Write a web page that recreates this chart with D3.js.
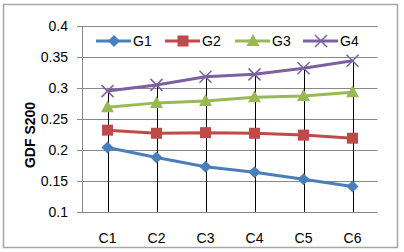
<!DOCTYPE html>
<html><head><meta charset="utf-8">
<script src="https://cdn.jsdelivr.net/npm/d3@7"></script>
<style>body{margin:0;background:#fff}</style>
</head><body>
<script>
const categories = ["C1","C2","C3","C4","C5","C6"];
const seriesNames = ["G1","G2","G3","G4"];
const G1 = [0.204,0.188,0.173,0.164,0.153,0.141];
const G2 = [0.232,0.227,0.228,0.227,0.224,0.219];
const G3 = [0.269,0.276,0.279,0.285,0.287,0.293];
const G4 = [0.295,0.305,0.318,0.322,0.332,0.344];
const yTicks = [0.1,0.15,0.2,0.25,0.3,0.35,0.4];
const colors = ["#4A7EBB","#BE4B48","#98B954","#7D60A0"];
const symbols = ["diamond","square","triangle","x"];
const allSeries = [G1,G2,G3,G4];

const W=404,H=252;
const svg=d3.select("body").append("svg").attr("width",W).attr("height",H);
svg.append("rect").attr("x",3.5).attr("y",4.5).attr("width",394).attr("height",243)
  .attr("fill","#fff").attr("stroke","#A6A6A6").attr("stroke-width",1.5);

const x=d3.scaleBand().domain(categories).range([83,377]);
const y=d3.scaleLinear().domain([0.1,0.4]).range([212,26]);
const font="'Liberation Sans', Arial, sans-serif";

// gridlines
svg.append("g").selectAll("line").data(yTicks).join("line")
  .attr("x1",77).attr("x2",377.5).attr("y1",d=>Math.round(y(d))+0.5).attr("y2",d=>Math.round(y(d))+0.5)
  .attr("stroke","#888").attr("stroke-width",1);
// y axis line
svg.append("line").attr("x1",82.5).attr("x2",82.5).attr("y1",26).attr("y2",212.5).attr("stroke","#888");
// y tick labels
svg.append("g").selectAll("text").data(yTicks).join("text")
  .attr("x",68).attr("y",d=>y(d)+5).attr("text-anchor","end")
  .attr("font-family",font).attr("font-size",14).attr("fill","#000")
  .text(d=>d3.format("")(d));
// x labels
svg.append("g").selectAll("text").data(categories).join("text")
  .attr("x",d=>x(d)+x.bandwidth()/2).attr("y",243).attr("text-anchor","middle")
  .attr("font-family",font).attr("font-size",14).attr("fill","#000").text(d=>d);
// y title
svg.append("text").attr("transform","translate(35,135) rotate(-90)").attr("text-anchor","middle")
  .attr("font-family",font).attr("font-size",14).attr("font-weight","bold").text("GDF S200");

// drop lines
const maxVals=categories.map((c,i)=>d3.max(allSeries,s=>s[i]));
svg.append("g").selectAll("line").data(categories).join("line")
  .attr("x1",d=>Math.round(x(d)+x.bandwidth()/2)+0.5).attr("x2",d=>Math.round(x(d)+x.bandwidth()/2)+0.5)
  .attr("y1",(d,i)=>y(maxVals[i])).attr("y2",212).attr("stroke","#000").attr("stroke-width",1);

function marker(g,type,cx,cy,color){
  if(type==="diamond"){
    g.append("path").attr("d",`M${cx},${cy-6}L${cx+6},${cy}L${cx},${cy+6}L${cx-6},${cy}Z`).attr("fill",color);
  } else if(type==="square"){
    g.append("rect").attr("x",cx-5.5).attr("y",cy-5.5).attr("width",11).attr("height",11).attr("fill",color);
  } else if(type==="triangle"){
    g.append("path").attr("d",`M${cx},${cy-7}L${cx+6.5},${cy+5}L${cx-6.5},${cy+5}Z`).attr("fill",color);
  } else {
    g.append("path").attr("d",`M${cx-6},${cy-6}L${cx+6},${cy+6}M${cx-6},${cy+6}L${cx+6},${cy-6}`)
      .attr("stroke",color).attr("stroke-width",1.5).attr("fill","none");
  }
}

const line=d3.line().x((d,i)=>x(categories[i])+x.bandwidth()/2).y(d=>y(d));
allSeries.forEach((s,k)=>{
  const g=svg.append("g");
  g.append("path").attr("d",line(s)).attr("fill","none").attr("stroke",colors[k]).attr("stroke-width",3);
  s.forEach((v,i)=>marker(g,symbols[k],x(categories[i])+x.bandwidth()/2,y(v),colors[k]));
});

// legend
const legX=[96,165,235,303];
seriesNames.forEach((n,k)=>{
  const g=svg.append("g");
  const ly=41;
  g.append("line").attr("x1",legX[k]).attr("x2",legX[k]+35).attr("y1",ly).attr("y2",ly)
    .attr("stroke",colors[k]).attr("stroke-width",3);
  marker(g,symbols[k],legX[k]+18,ly,colors[k]);
  g.append("text").attr("x",legX[k]+37).attr("y",ly+5).attr("font-family",font).attr("font-size",14).text(n);
});
</script>
</body></html>
